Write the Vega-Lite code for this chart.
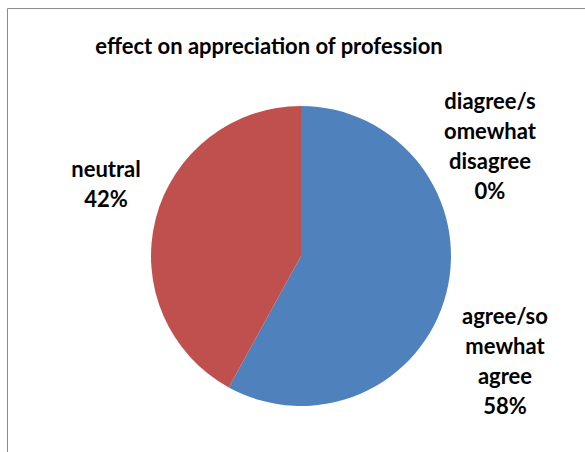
{
  "$schema": "https://vega.github.io/schema/vega-lite/v6.json",
  "width": 588,
  "height": 496,
  "autosize": {"type": "none"},
  "padding": {"left": 7, "top": 8, "right": 0, "bottom": 0},
  "background": "white",
  "view": {"stroke": "#8c8c8c", "strokeWidth": 1},
  "title": {
    "text": "effect on appreciation of profession",
    "font": "Lato",
    "fontSize": 22,
    "fontWeight": "bold",
    "color": "#000000",
    "anchor": "middle",
    "frame": "group",
    "offset": -68,
    "baseline": "alphabetic",
    "dx": -32
  },
  "config": {"view": {"stroke": "#8c8c8c", "strokeWidth": 1}},
  "data": {
    "values": [
      {"category": "agree/somewhat agree", "label": "agree/so\nmewhat\nagree\n58%", "share": 58},
      {"category": "diagree/somewhat disagree", "label": "diagree/s\nomewhat\ndisagree\n0%", "share": 0},
      {"category": "neutral", "label": "neutral\n42%", "share": 42}
    ]
  },
  "transform": [
    {"stack": "share", "groupby": [], "sort": [{"field": "share", "order": "descending"}], "as": ["s0", "s1"]}
  ],
  "layer": [
    {
      "mark": {"type": "arc", "outerRadius": 150},
      "encoding": {
        "theta": {"field": "s0", "type": "quantitative", "scale": {"domain": [0, 100]}},
        "theta2": {"field": "s1"},
        "color": {
          "field": "category",
          "type": "nominal",
          "scale": {
            "domain": ["agree/somewhat agree", "diagree/somewhat disagree", "neutral"],
            "range": ["#4F81BD", "#9BBB59", "#C0504D"]
          },
          "legend": null
        }
      }
    },
    {
      "transform": [{"filter": "datum.category === 'agree/somewhat agree'"}],
      "mark": {"type": "text", "radius": 175, "font": "Lato", "fontSize": 22, "fontWeight": "bold", "lineBreak": "\n", "lineHeight": 30, "align": "center", "baseline": "middle", "color": "#000000", "dx": 204, "dy": 236},
      "encoding": {
        "theta": {"field": "s0", "type": "quantitative"},
        "text": {"field": "label"}
      }
    },
    {
      "transform": [{"filter": "datum.category === 'diagree/somewhat disagree'"}],
      "mark": {"type": "text", "radius": 175, "font": "Lato", "fontSize": 22, "fontWeight": "bold", "lineBreak": "\n", "lineHeight": 30, "align": "center", "baseline": "middle", "color": "#000000", "dx": 189, "dy": 21},
      "encoding": {
        "theta": {"field": "s0", "type": "quantitative"},
        "text": {"field": "label"}
      }
    },
    {
      "transform": [{"filter": "datum.category === 'neutral'"}],
      "mark": {"type": "text", "radius": 175, "font": "Lato", "fontSize": 22, "fontWeight": "bold", "lineBreak": "\n", "lineHeight": 30, "align": "center", "baseline": "middle", "color": "#000000", "dx": -195, "dy": 89},
      "encoding": {
        "theta": {"field": "s1", "type": "quantitative"},
        "text": {"field": "label"}
      }
    }
  ]
}
